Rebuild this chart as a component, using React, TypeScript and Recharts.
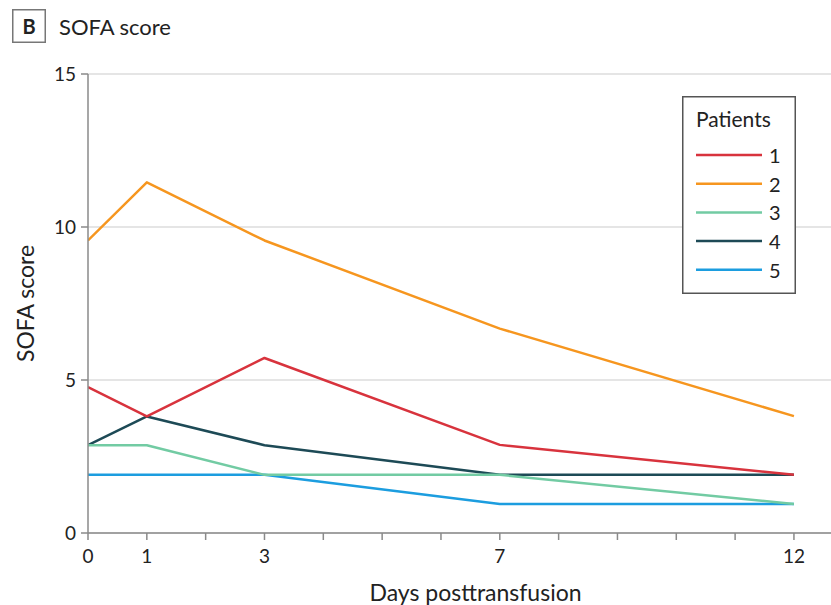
import React from "react";
import { LineChart, Line, XAxis, YAxis, CartesianGrid, Legend } from "recharts";

// Days after transfusion at which SOFA was assessed
const days = [0, 1, 3, 7, 12];

// SOFA score per patient at each assessment day
const patient1 = [4.77, 3.81, 5.72, 2.88, 1.9];
const patient2 = [9.56, 11.46, 9.56, 6.68, 3.82];
const patient3 = [2.87, 2.87, 1.9, 1.9, 0.95];
const patient4 = [2.87, 3.81, 2.87, 1.9, 1.9];
const patient5 = [1.9, 1.9, 1.9, 0.95, 0.95];

const patientNames = ["1", "2", "3", "4", "5"];
const patientColors = ["#d8333d", "#f6961f", "#72cba3", "#1d4a56", "#1c9ddf"];
const patientValues = [patient1, patient2, patient3, patient4, patient5];

const xTicks = [0, 1, 2, 3, 4, 5, 6, 7, 8, 9, 10, 11, 12];
const xLabeledTicks = [0, 1, 3, 7, 12];
const yTicks = [0, 5, 10, 15];

const data = days.map((d, i) => {
  const row: Record<string, number> = { day: d };
  patientNames.forEach((n, k) => {
    row["p" + n] = patientValues[k][i];
  });
  return row;
});

const FONT = "Lato, 'Open Sans', sans-serif";
const AXIS = "#8a8a8a";

const XTick = (props: any) => {
  const { x, y, payload } = props;
  if (!xLabeledTicks.includes(payload.value)) return <g />;
  return (
    <text x={x} y={y} dy="0.71em" textAnchor="middle" fill="#222" fontSize={19} fontFamily={FONT}>
      {payload.value}
    </text>
  );
};

const PatientLegend = () => (
  <svg width={114} height={198} style={{ display: "block" }}>
    <rect x={0.75} y={0.75} width={112.5} height={196.5} fill="#fff" stroke="#555" strokeWidth={1.5} />
    <text x={14} y={31} fontSize={21} fill="#222" fontFamily={FONT}>
      Patients
    </text>
    {patientNames.map((n, i) => {
      const cy = 59 + i * 28.7;
      return (
        <g key={n}>
          <line x1={14} x2={80} y1={cy} y2={cy} stroke={patientColors[i]} strokeWidth={2.5} />
          <text x={87} y={cy + 8} fontSize={20} fill="#222" fontFamily={FONT}>
            {n}
          </text>
        </g>
      );
    })}
  </svg>
);

export default function App() {
  const drawOrder = [4, 3, 2, 1, 0];
  return (
    <div style={{ position: "absolute", left: 0, top: 0, width: 831, height: 605, background: "#fff" }}>
      <svg width={200} height={50} style={{ position: "absolute", left: 0, top: 0 }}>
        <rect x={12.75} y={9.75} width={32.5} height={32.5} fill="#fff" stroke="#777" strokeWidth={1.5} />
        <text x={29} y={33.5} textAnchor="middle" fontSize={20} fontWeight={700} fill="#222" fontFamily={FONT}>
          B
        </text>
        <text x={59} y={35} fontSize={22} fill="#222" fontFamily={FONT}>
          SOFA score
        </text>
      </svg>
      <LineChart
        width={831}
        height={605}
        data={data}
        margin={{ top: 74, right: 0, bottom: 0, left: 0 }}
        style={{ fontFamily: FONT }}
      >
        <CartesianGrid vertical={false} stroke="#dcdcdc" strokeWidth={1.5} />
        <XAxis
          dataKey="day"
          type="number"
          domain={[0, 12.63]}
          ticks={xTicks}
          allowDataOverflow
          height={72}
          tickSize={7}
          tickMargin={10}
          stroke={AXIS}
          strokeWidth={1.5}
          tick={<XTick />}
          label={{
            value: "Days posttransfusion",
            position: "insideBottom",
            offset: 4,
            dx: 16,
            fill: "#222",
            fontSize: 23,
            fontFamily: FONT,
          }}
        />
        <YAxis
          type="number"
          domain={[0, 15]}
          ticks={yTicks}
          width={88}
          tickSize={7}
          tickMargin={5}
          stroke={AXIS}
          strokeWidth={1.5}
          tick={{ fill: "#222", fontSize: 19, fontFamily: FONT }}
          label={{
            value: "SOFA score",
            angle: -90,
            position: "insideLeft",
            offset: 26,
            fill: "#222",
            fontSize: 23,
            fontFamily: FONT,
            style: { textAnchor: "middle" },
          }}
        />
        {drawOrder.map((k) => (
          <Line
            key={patientNames[k]}
            type="linear"
            dataKey={"p" + patientNames[k]}
            name={patientNames[k]}
            stroke={patientColors[k]}
            strokeWidth={2.5}
            strokeLinejoin="round"
            dot={false}
            activeDot={false}
            isAnimationActive={false}
          />
        ))}
        <Legend
          layout="vertical"
          align="center"
          verticalAlign="middle"
          content={<PatientLegend />}
          wrapperStyle={{ position: "absolute", left: 682, top: 96, width: 114, height: 198 }}
        />
      </LineChart>
    </div>
  );
}
